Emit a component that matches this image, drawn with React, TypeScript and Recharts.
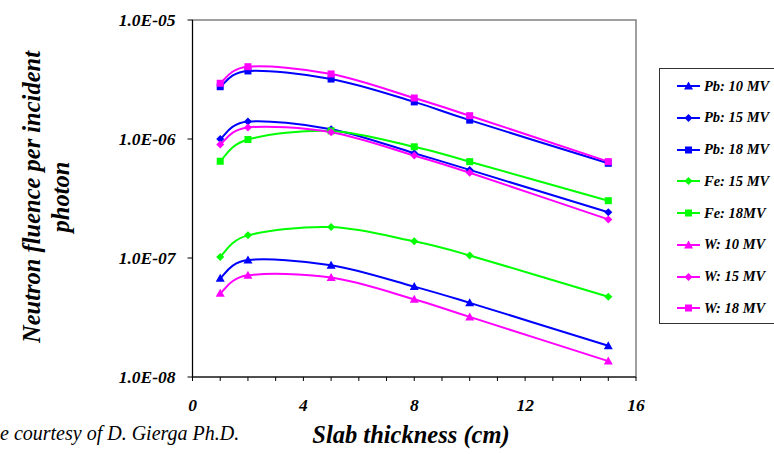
import { LineChart, Line, XAxis, YAxis, ReferenceArea, Legend } from "recharts";

const thickness = [1, 2, 5, 8, 10, 15];

const pb10 = [6.75e-8, 9.6e-8, 8.7e-8, 5.75e-8, 4.2e-8, 1.83e-8];
const pb15 = [1.0e-6, 1.4e-6, 1.21e-6, 7.6e-7, 5.5e-7, 2.42e-7];
const pb18 = [2.75e-6, 3.73e-6, 3.19e-6, 2.05e-6, 1.44e-6, 6.25e-7];
const fe15 = [1.02e-7, 1.55e-7, 1.82e-7, 1.38e-7, 1.05e-7, 4.73e-8];
const fe18 = [6.5e-7, 9.9e-7, 1.17e-6, 8.6e-7, 6.45e-7, 3.03e-7];
const w10 = [5.05e-8, 7.15e-8, 6.85e-8, 4.5e-8, 3.2e-8, 1.36e-8];
const w15 = [9.0e-7, 1.25e-6, 1.14e-6, 7.25e-7, 5.2e-7, 2.11e-7];
const w18 = [2.94e-6, 4.05e-6, 3.52e-6, 2.21e-6, 1.57e-6, 6.45e-7];

const xTicks = [0, 1, 2, 3, 4, 5, 6, 7, 8, 9, 10, 11, 12, 13, 14, 15, 16];
const yTicks = [1e-8, 1e-7, 1e-6, 1e-5];

const BLUE = "#0000ff";
const GREEN = "#00ff00";
const MAGENTA = "#ff00ff";
const FONT = "'Liberation Serif', 'Times New Roman', serif";

type Shape = "triangle" | "diamond" | "square";

const series: { key: string; name: string; values: number[]; color: string; shape: Shape }[] = [
  { key: "pb10", name: "Pb: 10 MV", values: pb10, color: BLUE, shape: "triangle" },
  { key: "pb15", name: "Pb: 15 MV", values: pb15, color: BLUE, shape: "diamond" },
  { key: "pb18", name: "Pb: 18 MV", values: pb18, color: BLUE, shape: "square" },
  { key: "fe15", name: "Fe: 15 MV", values: fe15, color: GREEN, shape: "diamond" },
  { key: "fe18", name: "Fe: 18MV", values: fe18, color: GREEN, shape: "square" },
  { key: "w10", name: "W: 10 MV", values: w10, color: MAGENTA, shape: "triangle" },
  { key: "w15", name: "W: 15 MV", values: w15, color: MAGENTA, shape: "diamond" },
  { key: "w18", name: "W: 18 MV", values: w18, color: MAGENTA, shape: "square" },
];

const data = thickness.map((t, i) => {
  const row: Record<string, number> = { t };
  series.forEach((s) => (row[s.key] = s.values[i]));
  return row;
});

// Excel-style smoothed line: cubic bezier through each point, tangents from neighbours
const smoothCurve = (context: any) => {
  let pts: [number, number][] = [];
  return {
    areaStart() {},
    areaEnd() {},
    lineStart() {
      pts = [];
    },
    point(x: number, y: number) {
      pts.push([+x, +y]);
    },
    lineEnd() {
      if (!pts.length) return;
      context.moveTo(pts[0][0], pts[0][1]);
      for (let i = 0; i < pts.length - 1; i++) {
        const p0 = pts[Math.max(i - 1, 0)];
        const p1 = pts[i];
        const p2 = pts[i + 1];
        const p3 = pts[Math.min(i + 2, pts.length - 1)];
        context.bezierCurveTo(
          p1[0] + (p2[0] - p0[0]) / 6,
          p1[1] + (p2[1] - p0[1]) / 6,
          p2[0] - (p3[0] - p1[0]) / 6,
          p2[1] - (p3[1] - p1[1]) / 6,
          p2[0],
          p2[1]
        );
      }
    },
  };
};

function Marker({ cx, cy, shape, color }: { cx: number; cy: number; shape: Shape; color: string }) {
  if (cx == null || cy == null) return null;
  if (shape === "triangle") {
    return <polygon points={`${cx},${cy - 4.5} ${cx + 4.5},${cy + 3.5} ${cx - 4.5},${cy + 3.5}`} fill={color} />;
  }
  if (shape === "diamond") {
    return <polygon points={`${cx},${cy - 4} ${cx + 4},${cy} ${cx},${cy + 4} ${cx - 4},${cy}`} fill={color} />;
  }
  return <rect x={cx - 3.5} y={cy - 3.5} width={7} height={7} fill={color} />;
}

const formatExp = (v: number) => {
  const e = Math.round(Math.log10(v));
  const abs = Math.abs(e);
  return `1.0E${e < 0 ? "-" : "+"}${abs < 10 ? "0" + abs : abs}`;
};

function LegendBox() {
  return (
    <div
      style={{
        position: "absolute",
        left: 659,
        top: 68,
        width: 140,
        height: 256,
        border: "1.5px solid #333",
        background: "#fff",
        boxSizing: "border-box",
      }}
    >
      {series.map((s, i) => (
        <div
          key={s.key}
          style={{
            position: "absolute",
            left: 17,
            top: 17 + i * 31.75 - 9,
            height: 18,
            display: "flex",
            alignItems: "center",
            whiteSpace: "nowrap",
          }}
        >
          <svg width={24} height={12} style={{ marginRight: 3 }}>
            <line x1={0} y1={6} x2={23} y2={6} stroke={s.color} strokeWidth={2} />
            <Marker cx={11.5} cy={6} shape={s.shape} color={s.color} />
          </svg>
          <span style={{ fontFamily: FONT, fontWeight: "bold", fontStyle: "italic", fontSize: 14.5, color: "#000" }}>
            {s.name}
          </span>
        </div>
      ))}
    </div>
  );
}

const yTitle = () => {
  const cy = 197;
  return (
    <text
      transform={`rotate(-90, 0, ${cy})`}
      x={0}
      y={cy}
      textAnchor="middle"
      fontFamily={FONT}
      fontWeight="bold"
      fontStyle="italic"
      fontSize={24.5}
      fill="#000"
    >
      <tspan x={0} dy={40}>Neutron fluence per incident</tspan>
      <tspan x={0} dy={29}>photon</tspan>
    </text>
  );
};

const xTitle = () => (
  <text x={411} y={443} textAnchor="middle" fontFamily={FONT} fontWeight="bold" fontStyle="italic" fontSize={24.5} fill="#000">
    Slab thickness (cm)
  </text>
);

export default function App() {
  const tickStyle = { fontFamily: FONT, fontWeight: "bold", fontStyle: "italic", fontSize: 17.5, fill: "#000" };
  return (
    <div style={{ position: "absolute", left: 0, top: 0, width: 774, height: 454, background: "#fff", overflow: "hidden" }}>
      <LineChart width={774} height={454} data={data} margin={{ top: 20, right: 138, bottom: 47, left: 0 }}>
        <ReferenceArea x1={0} x2={16} y1={1e-8} y2={1e-5} fill="none" stroke="#808080" strokeWidth={1.5} ifOverflow="visible" />
        <XAxis
          dataKey="t"
          type="number"
          domain={[0, 16]}
          ticks={xTicks}
          interval={0}
          tickFormatter={(v: number) => (v % 4 === 0 ? String(v) : "")}
          tick={tickStyle}
          tickSize={4}
          tickMargin={18}
          height={30}
          stroke="#000"
          tickLine={{ stroke: "#000" }}
          label={{ content: xTitle }}
        />
        <YAxis
          scale="log"
          domain={[1e-8, 1e-5]}
          ticks={yTicks}
          interval={0}
          allowDataOverflow
          tickFormatter={formatExp}
          tick={tickStyle}
          tickSize={5}
          tickMargin={12}
          width={192.5}
          stroke="#000"
          tickLine={{ stroke: "#000" }}
          label={{ content: yTitle }}
        />
        <Legend content={() => <LegendBox />} wrapperStyle={{ position: "absolute", left: 0, top: 0, width: 0, height: 0 }} />
        {series.map((s) => (
          <Line
            key={s.key}
            dataKey={s.key}
            name={s.name}
            type={smoothCurve as any}
            stroke={s.color}
            strokeWidth={2}
            isAnimationActive={false}
            dot={(p: any) => <Marker key={`${s.key}-${p.index}`} cx={p.cx} cy={p.cy} shape={s.shape} color={s.color} />}
            activeDot={false}
          />
        ))}
      </LineChart>
      <div
        style={{
          position: "absolute",
          left: 0,
          top: 421,
          fontFamily: FONT,
          fontStyle: "italic",
          fontSize: 20,
          lineHeight: "24px",
          color: "#000",
          whiteSpace: "nowrap",
        }}
      >
        e courtesy of D. Gierga Ph.D.
      </div>
    </div>
  );
}
